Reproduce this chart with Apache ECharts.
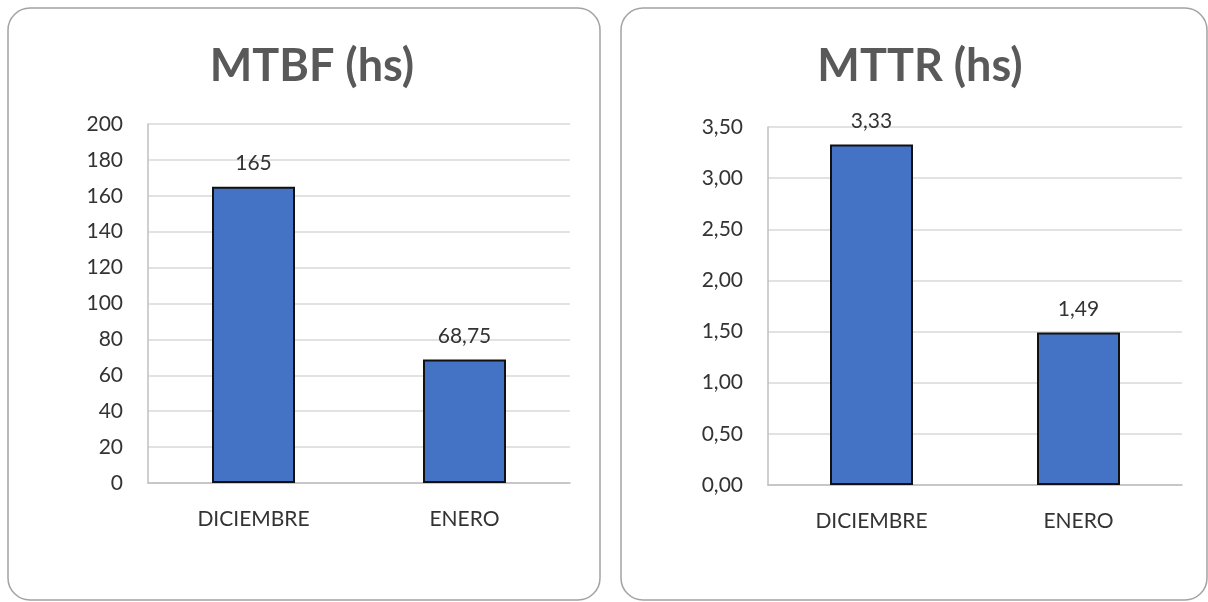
<!DOCTYPE html>
<html>
<head>
<meta charset="utf-8">
<script src="https://cdn.jsdelivr.net/npm/echarts@6/dist/echarts.min.js"></script>
<style>
  html, body { margin: 0; padding: 0; background: #fff; }
  #main { width: 1208px; height: 602px; }
</style>
</head>
<body>
<div id="main"></div>
<script>
var months = ["DICIEMBRE", "ENERO"];
var mtbfValues = [165, 68.75];
var mttrValues = [3.33, 1.49];
var mtbfTitle = "MTBF (hs)";
var mttrTitle = "MTTR (hs)";

var textColor = "#333333";
var fontFam = "Lato, 'Open Sans', sans-serif";

function comma(v, digits) {
  var s = digits == null ? String(v) : v.toFixed(digits);
  return s.replace(".", ",");
}

var chart = echarts.init(document.getElementById("main"));

function panel(x, w) {
  return {
    type: "rect",
    z: -1,
    shape: { x: x, y: 8, width: w, height: 592, r: 22 },
    style: { fill: "#fff", stroke: "#a3a3a3", lineWidth: 1.5 }
  };
}

function xAxisFor(i) {
  return {
    type: "category",
    gridIndex: i,
    data: months,
    axisTick: { show: false },
    axisLine: { lineStyle: { color: "#bfbfbf", width: 1.5 } },
    axisLabel: { color: textColor, fontFamily: fontFam, fontSize: 21, margin: 26 }
  };
}

function yAxisFor(i, max, step, digits) {
  return {
    type: "value",
    gridIndex: i,
    min: 0,
    max: max,
    interval: step,
    axisLine: { show: true, lineStyle: { color: "#bfbfbf", width: 1.5 } },
    axisTick: { show: false },
    splitLine: { lineStyle: { color: "#d9d9d9", width: 1.5 } },
    axisLabel: {
      color: textColor, fontFamily: fontFam, fontSize: 21, margin: 25,
      formatter: function (v) { return comma(v, digits); }
    }
  };
}

function barSeries(i, data) {
  return {
    type: "bar",
    xAxisIndex: i,
    yAxisIndex: i,
    data: data,
    barWidth: 83,
    itemStyle: { color: "#4472c4", borderColor: "#111", borderWidth: 2 },
    label: {
      show: true,
      position: "top",
      distance: 13,
      color: textColor,
      fontFamily: fontFam,
      fontSize: 21,
      formatter: function (p) { return comma(p.value); }
    },
    emphasis: { disabled: true }
  };
}

chart.setOption({
  animation: false,
  graphic: [panel(8, 592), panel(621, 586)],
  title: [
    {
      text: mtbfTitle, left: 307, top: 39, textAlign: "center",
      textStyle: { color: "#595959", fontFamily: fontFam, fontWeight: "bold", fontSize: 45 }
    },
    {
      text: mttrTitle, left: 915, top: 39, textAlign: "center",
      textStyle: { color: "#595959", fontFamily: fontFam, fontWeight: "bold", fontSize: 45 }
    }
  ],
  grid: [
    { left: 148, top: 124, width: 422, height: 359 },
    { left: 768, top: 127, width: 414, height: 358 }
  ],
  xAxis: [xAxisFor(0), xAxisFor(1)],
  yAxis: [yAxisFor(0, 200, 20, 0), yAxisFor(1, 3.5, 0.5, 2)],
  series: [barSeries(0, mtbfValues), barSeries(1, mttrValues)]
});
</script>
</body>
</html>
